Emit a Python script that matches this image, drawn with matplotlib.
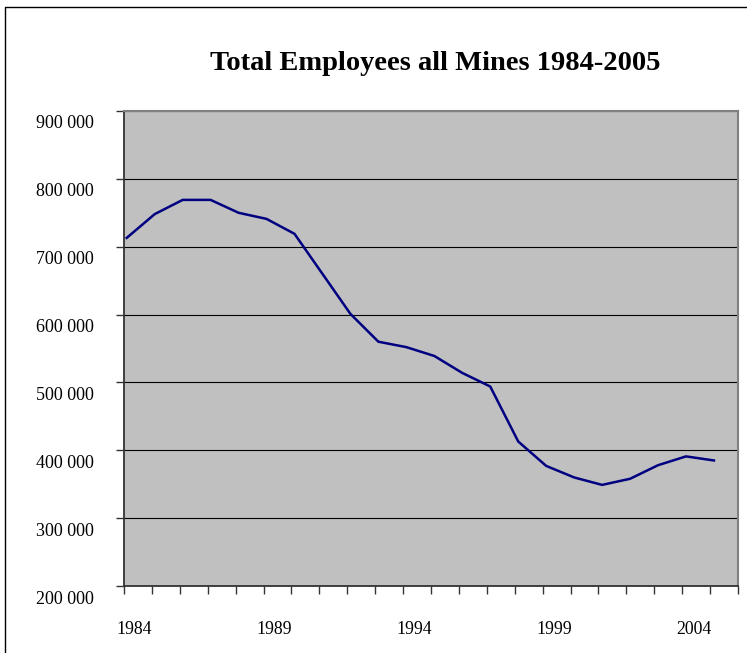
import matplotlib
matplotlib.use("Agg")
import matplotlib.pyplot as plt
import matplotlib.transforms as mtransforms
from matplotlib.lines import Line2D
from matplotlib.ticker import FuncFormatter
import numpy as np

# Total employees, all mines
years = list(range(1984, 2006))
employees = [713000, 748000, 769000, 769000, 750000, 741000, 719000, 660000,
             601000, 560000, 552000, 539000, 514000, 494000, 413000, 377000,
             360000, 349000, 358000, 378000, 391000, 385000]
label_years = [1984, 1989, 1994, 1999, 2004]

plt.rcParams["font.family"] = ["Liberation Serif", "DejaVu Serif"]

fig = plt.figure(figsize=(7.47, 6.53), dpi=100)
ax = fig.add_axes([124 / 747, 1 - 586 / 653, (738 - 124) / 747, (586 - 111) / 653])
ax.set_facecolor("#c0c0c0")

x = np.arange(len(years))
ax.plot(x, employees, color="#000080", lw=1.8, zorder=3)

xlo, xhi = -0.097, 21.86
ax.set_xlim(xlo, xhi)
ax.set_ylim(200000, 900000)

# category tick marks (between categories) and offset year labels
ax.set_xticks(np.linspace(xlo, xhi, 23))
ax.set_xticklabels([])
ax.tick_params(axis="x", which="major", direction="out", length=6, width=1, color="#333333")
ax.set_xticks([years.index(y) + 0.27 for y in label_years], minor=True)
ax.set_xticklabels([str(y) for y in label_years], minor=True)
ax.tick_params(axis="x", which="minor", length=0, pad=25, labelsize=12.8)

ax.set_yticks(np.arange(200000, 900001, 100000))
ax.yaxis.set_major_formatter(FuncFormatter(lambda v, p: f"{v:,.0f}".replace(",", " ")))
ax.tick_params(axis="y", direction="out", length=6, width=1, color="#333333", pad=16, labelsize=13)
offset = mtransforms.ScaledTranslation(0, -11 / 100, fig.dpi_scale_trans)
for lbl in ax.get_yticklabels():
    lbl.set_transform(lbl.get_transform() + offset)

ax.grid(axis="y", color="black", lw=0.8, zorder=1)
ax.set_axisbelow(True)

for side in ["left", "bottom"]:
    ax.spines[side].set_color("#333333")
    ax.spines[side].set_linewidth(1.3)
for side in ["top", "right"]:
    ax.spines[side].set_color("#808080")
    ax.spines[side].set_linewidth(1.5)

fig.text(434.7 / 747, 1 - 63 / 653, "Total Employees all Mines 1984-2005",
         ha="center", va="center", fontsize=20.5, fontweight="bold")

# outer chart border (right/bottom edges fall outside the image)
fig.add_artist(Line2D([5 / 747, 5 / 747, 1], [0, 1 - 7 / 653, 1 - 7 / 653],
                      transform=fig.transFigure, color="black", lw=1))

fig.savefig("out.png", dpi=100)
